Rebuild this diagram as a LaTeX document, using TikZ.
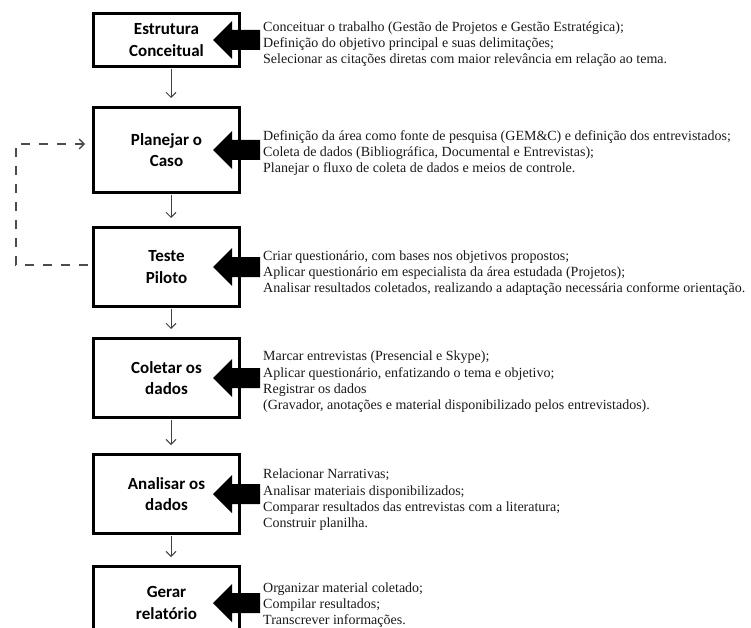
\documentclass[tikz,border=0pt]{standalone}
\usepackage{fontspec}
\setmainfont{Liberation Serif}
\newfontfamily\stagefont{Carlito}
\usepackage{tikz}
\usetikzlibrary{calc,arrows.meta,positioning}
\tikzset{
  stage/.style={draw,line width=3pt,minimum width=146pt,align=center,
    font=\stagefont\bfseries\fontsize{17}{21.5}\selectfont,inner sep=0pt},
  note/.style={anchor=west,align=left,inner sep=2pt,
    font=\fontsize{14}{16.3}\selectfont,text=black!90},
  flow/.style={-{Straight Barb[length=5pt,width=10pt]},line width=0.9pt,
    black!75,shorten <=1pt,shorten >=8pt},
  loopback/.style={-{Straight Barb[length=5pt,width=10pt]},line width=1.3pt,
    black!70,dash pattern=on 9pt off 9pt,shorten <=4pt,shorten >=7pt}
}
% block arrow pointing into the right side of a stage
\newcommand{\feed}[1]{%
  \fill ([xshift=-28pt]#1.east) -- ++(19,19) -- ++(0,-9) -- ++(28,0)
    -- ++(0,-20) -- ++(-28,0) -- ++(0,-9) -- cycle;}

\begin{document}
\begin{tikzpicture}[x=1pt,y=-1pt]
  \useasboundingbox (0,0) rectangle (751,628);
  \clip (0,0) rectangle (751,628);

  % Stages
  \node[stage,minimum height=53pt] (estrutura) at (166.5,40) {Estrutura\\Conceitual};
  \node[stage,minimum height=85pt] (planejar)  at (166.5,150) {Planejar o\\Caso};
  \node[stage,minimum height=79pt] (teste)     at (166.5,267) {Teste\\Piloto};
  \node[stage,minimum height=79pt] (coletar)   at (166.5,378) {Coletar os\\dados};
  \node[stage,minimum height=79pt] (analisar)  at (166.5,494) {Analisar os\\dados};
  \node[stage,minimum height=73pt] (gerar)     at (166.5,603) {Gerar\\relatório};

  % Notes
  \node[note] (nEstrutura) at ([xshift=20pt,yshift=-4pt]estrutura.east)
    {Conceituar o trabalho (Gestão de Projetos e Gestão Estratégica);\\
     Definição do objetivo principal e suas delimitações;\\
     Selecionar as citações diretas com maior relevância em relação ao tema.};
  \node[note] (nPlanejar) at ([xshift=20pt,yshift=-3pt]planejar.east)
    {Definição da área como fonte de pesquisa (GEM\&C) e definição dos entrevistados;\\
     Coleta de dados (Bibliográfica, Documental e Entrevistas);\\
     Planejar o fluxo de coleta de dados e meios de controle.};
  \node[note] (nTeste) at ([xshift=20pt,yshift=-6pt]teste.east)
    {Criar questionário, com bases nos objetivos propostos;\\
     Aplicar questionário em especialista da área estudada (Projetos);\\
     Analisar resultados coletados, realizando a adaptação necessária conforme orientação.};
  \node[note] (nColetar) at ([xshift=20pt,yshift=-4pt]coletar.east)
    {Marcar entrevistas (Presencial e Skype);\\
     Aplicar questionário, enfatizando o tema e objetivo;\\
     Registrar os dados\\
     (Gravador, anotações e material disponibilizado pelos entrevistados).};
  \node[note] (nAnalisar) at ([xshift=20pt,yshift=-6pt]analisar.east)
    {Relacionar Narrativas;\\
     Analisar materiais disponibilizados;\\
     Comparar resultados das entrevistas com a literatura;\\
     Construir planilha.};
  \node[note] (nGerar) at ([xshift=20pt,yshift=-2pt]gerar.east)
    {Organizar material coletado;\\
     Compilar resultados;\\
     Transcrever informações.};

  % Block arrows
  \foreach \s in {estrutura,planejar,teste,coletar,analisar,gerar}
    \feed{\s};

  % Flow between stages
  \draw[flow] ([xshift=4.5pt]estrutura.south) -- ([xshift=4.5pt]planejar.north);
  \draw[flow] ([xshift=4.5pt]planejar.south)  -- ([xshift=4.5pt]teste.north);
  \draw[flow] ([xshift=4.5pt]teste.south)     -- ([xshift=4.5pt]coletar.north);
  \draw[flow] ([xshift=4.5pt]coletar.south)   -- ([xshift=4.5pt]analisar.north);
  \draw[flow] ([xshift=4.5pt]analisar.south)  -- ([xshift=4.5pt]gerar.north);

  % Pilot feedback loop
  \draw[loopback] ([yshift=2pt]teste.west) -- ++(-76,0) coordinate (corner)
    |- ([yshift=6pt]planejar.west);
\end{tikzpicture}
\end{document}
